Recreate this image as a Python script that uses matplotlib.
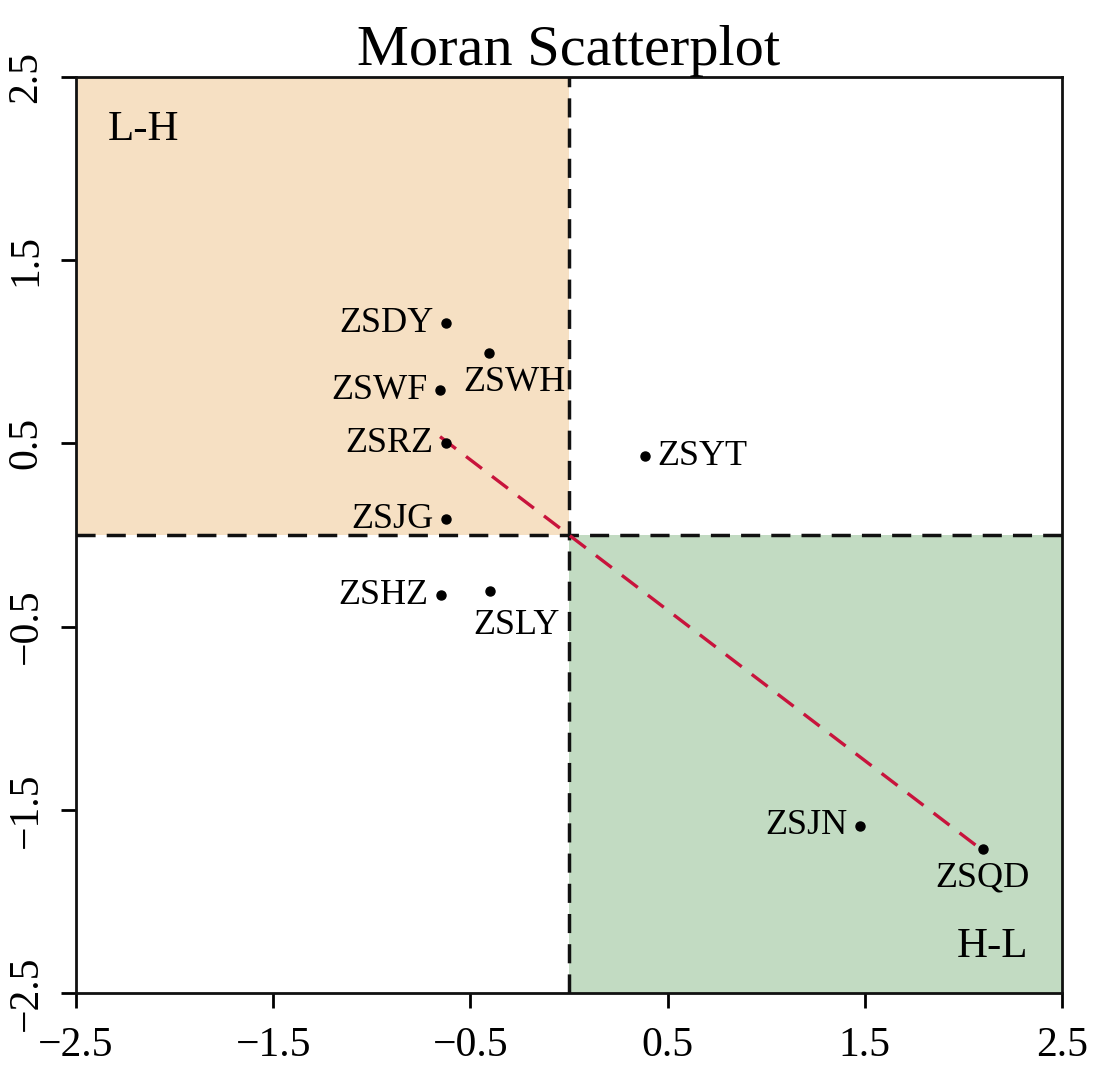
import matplotlib
matplotlib.use("Agg")
import matplotlib.pyplot as plt
import numpy as np

plt.rcParams['font.family'] = ['Liberation Serif', 'DejaVu Serif']

# Data
names = ["ZSDY", "ZSWH", "ZSWF", "ZSRZ", "ZSJG", "ZSYT", "ZSHZ", "ZSLY", "ZSJN", "ZSQD"]
z_values = [-0.624, -0.406, -0.654, -0.624, -0.624, 0.385, -0.649, -0.401, 1.476, 2.099]
lag_values = [1.157, 0.993, 0.791, 0.502, 0.087, 0.431, -0.328, -0.306, -1.588, -1.714]
label_side = ["left", "below", "left", "left", "left", "right", "left", "below", "left", "below"]
ticks = [-2.5, -1.5, -0.5, 0.5, 1.5, 2.5]
tick_labels = ["\u22122.5", "\u22121.5", "\u22120.5", "0.5", "1.5", "2.5"]
quadrant_labels = ["L-H", "H-L"]
title = "Moran Scatterplot"

# label nudges (points), layout only
label_dx = [0, 18, 0, 0, 0, 0, 0, 19, 0, 0]
label_dy = [0, -9, 0, 0, 0, 0, 0, -13, 0, -9]

x = np.array(z_values)
y = np.array(lag_values)

fig = plt.figure(figsize=(11.05, 10.74), dpi=100)
ax = fig.add_axes([0.0688, 0.0754, 0.8923, 0.8529])
lim = 2.5
ax.set_xlim(-lim, lim)
ax.set_ylim(-lim, lim)

ax.fill_between([-lim, 0], 0, lim, color="#F6E0C3", lw=0, zorder=0)
ax.fill_between([0, lim], -lim, 0, color="#C2DBC2", lw=0, zorder=0)

ax.axvline(0, color="#111111", lw=2.5, ls=(0, (5.5, 3.2)), zorder=2)
ax.axhline(0, color="#111111", lw=2.5, ls=(0, (5.5, 3.2)), zorder=2)

# regression line through the origin (Moran's I slope)
slope = np.sum(x * y) / np.sum(x * x)
xs = np.array([x.min(), x.max()])
ax.plot(xs, slope * xs, color="#C8143C", lw=2.4, ls=(0, (6, 3.8)), zorder=3)

ax.plot(x, y, "o", color="black", ms=6.5, zorder=4)

fs = 26
for n, xi, yi, side, dx, dy in zip(names, x, y, label_side, label_dx, label_dy):
    if side == "left":
        ax.annotate(n, (xi, yi), xytext=(-9 + dx, dy), textcoords="offset points",
                    ha="right", va="center", fontsize=fs)
    elif side == "right":
        ax.annotate(n, (xi, yi), xytext=(9 + dx, dy), textcoords="offset points",
                    ha="left", va="center", fontsize=fs)
    else:
        ax.annotate(n, (xi, yi), xytext=(dx, dy), textcoords="offset points",
                    ha="center", va="top", fontsize=fs)

ax.text(-2.34, 2.21, quadrant_labels[0], ha="left", va="center", fontsize=31)
ax.text(2.33, -2.25, quadrant_labels[1], ha="right", va="center", fontsize=31)

ax.set_xticks(ticks)
ax.set_xticklabels(tick_labels, fontsize=30)
ax.set_yticks(ticks)
ax.set_yticklabels(tick_labels, fontsize=30, rotation=90, va="center")
ax.tick_params(length=11, width=2, direction="out")
ax.tick_params(axis="x", pad=13)
ax.tick_params(axis="y", pad=11)
for s in ax.spines.values():
    s.set_linewidth(2)
    s.set_color("#111111")

ax.set_title(title, fontsize=42, pad=4)

fig.savefig("out.png", dpi=100)
